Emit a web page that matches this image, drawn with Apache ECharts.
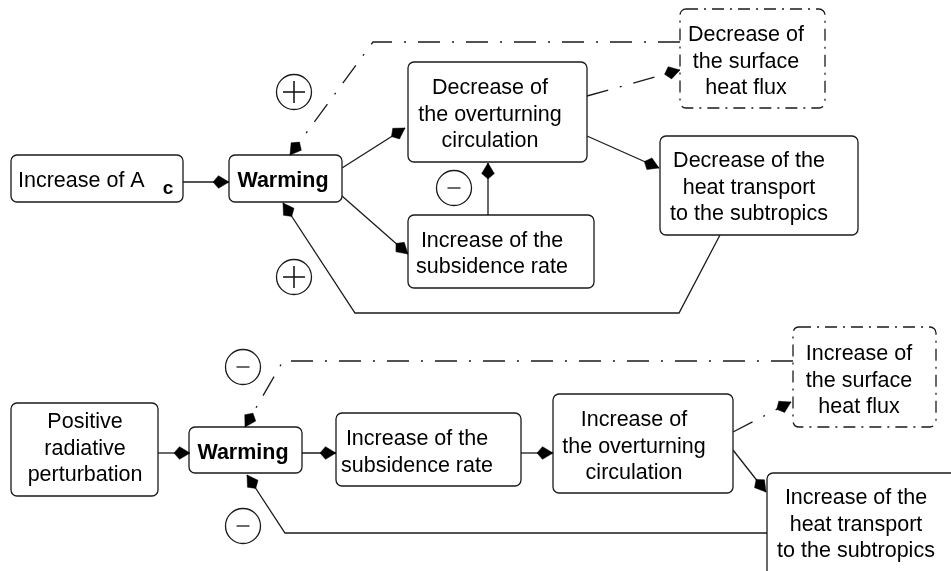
<!DOCTYPE html>
<html>
<head>
<meta charset="utf-8">
<script src="https://cdn.jsdelivr.net/npm/echarts@6/dist/echarts.min.js"></script>
<style>html,body{margin:0;padding:0;background:#fff}#c{width:951px;height:571px}</style>
</head>
<body>
<div id="c"></div>
<script>
// ---- content ----
const boxLabels = [
  'Increase of A',
  'Warming',
  'Decrease of\nthe overturning\ncirculation',
  'Increase of the\nsubsidence rate',
  'Decrease of\nthe surface\nheat flux',
  'Decrease of the\nheat transport\nto the subtropics',
  'Positive\nradiative\nperturbation',
  'Warming',
  'Increase of the\nsubsidence rate',
  'Increase of\nthe overturning\ncirculation',
  'Increase of\nthe surface\nheat flux',
  'Increase of the\nheat transport\nto the subtropics'
];
const boxSubscripts = ['c', '', '', '', '', '', '', '', '', '', '', ''];
const boxBold = [false, true, false, false, false, false, false, true, false, false, false, false];
const boxDashed = [false, false, false, false, true, false, false, false, false, false, true, false];
const signLabels = ['+', '−', '+', '−', '−'];

// ---- layout (pixel-space coordinates on a hidden 951x571 value grid) ----
const boxRects = [
  [11, 155, 183, 202],
  [229, 155, 342, 202],
  [408, 62, 587, 162],
  [408, 215, 594, 288],
  [680, 9, 825, 108],
  [660, 136, 858, 235],
  [11, 403, 158, 496],
  [189, 427, 302, 473],
  [336, 413, 521, 486],
  [553, 394, 733, 493],
  [793, 327, 936, 427],
  [767, 473, 966, 582]
];
const textAnchors = [
  [18, 181], [283, 181], [490, 115], [492, 254], [746, 62], [749, 188],
  [85, 449], [243, 453], [417, 452.5], [634, 447], [859, 381], [856, 525]
];
const subAnchors = [[168, 189]];
const signPositions = [[294, 92], [454, 188], [294, 277], [243, 367], [243, 526]];

// connectors: path points, ending at the arrow tip
const solidPaths = [
  [[183, 182], [229, 182]],
  [[342, 168], [405, 128]],
  [[342, 196], [408, 254]],
  [[488, 215], [488, 163]],
  [[587, 136], [659, 168]],
  [[720, 235], [679, 313], [355, 313], [283, 203]],
  [[158, 453], [190, 453]],
  [[302, 453], [336, 453]],
  [[521, 453], [553, 453]],
  [[733, 450], [766, 492]],
  [[767, 533], [285, 533], [247, 475]]
];
const dashPaths = [
  [[587, 96], [680, 70]],
  [[680, 42], [373, 42], [290, 155]],
  [[733, 432], [791, 402]],
  [[793, 361], [283, 361], [245, 427]]
];

const INK = '#1a1a1a';
const FONT = '"Liberation Sans", Arial, sans-serif';
const DASHDOT = [22, 12, 2, 12];

const arrowData = solidPaths.concat(dashPaths).map(p => {
  const a = p[p.length - 2], b = p[p.length - 1];
  return [a[0], a[1], b[0], b[1]];
});

function renderBox(params, api) {
  const i = params.dataIndex;
  const p1 = api.coord([api.value(0), api.value(1)]);
  const p2 = api.coord([api.value(2), api.value(3)]);
  const t = api.coord(textAnchors[i]);
  const children = [{
    type: 'rect',
    shape: {
      x: Math.min(p1[0], p2[0]), y: Math.min(p1[1], p2[1]),
      width: Math.abs(p2[0] - p1[0]), height: Math.abs(p2[1] - p1[1]), r: 6
    },
    style: { fill: '#fff', stroke: INK, lineWidth: 1.3, lineDash: boxDashed[i] ? [12, 6, 2, 6] : null }
  }, {
    type: 'text',
    style: {
      text: boxLabels[i], x: t[0], y: t[1],
      align: i === 0 ? 'left' : 'center', verticalAlign: 'middle',
      fontSize: 21.5, fontFamily: FONT, fontWeight: boxBold[i] ? 'bold' : 'normal',
      lineHeight: 26.5, fill: '#000'
    }
  }];
  if (boxSubscripts[i]) {
    const s = api.coord(subAnchors[0]);
    children.push({
      type: 'text',
      style: {
        text: boxSubscripts[i], x: s[0], y: s[1], align: 'center', verticalAlign: 'middle',
        fontSize: 19, fontFamily: FONT, fontWeight: 'bold', fill: '#000'
      }
    });
  }
  return { type: 'group', children };
}

function renderArrow(params, api) {
  const a = api.coord([api.value(0), api.value(1)]);
  const b = api.coord([api.value(2), api.value(3)]);
  const dx = b[0] - a[0], dy = b[1] - a[1];
  const len = Math.sqrt(dx * dx + dy * dy) || 1;
  const ux = dx / len, uy = dy / len, nx = -uy, ny = ux;
  const L = 16, M = 10.5, W = 6.3;
  return {
    type: 'polygon',
    shape: {
      points: [
        [b[0], b[1]],
        [b[0] - M * ux + W * nx, b[1] - M * uy + W * ny],
        [b[0] - L * ux, b[1] - L * uy],
        [b[0] - M * ux - W * nx, b[1] - M * uy - W * ny]
      ]
    },
    style: { fill: '#000', stroke: '#000', lineWidth: 0.5 }
  };
}

function renderSign(params, api) {
  const i = params.dataIndex;
  const c = api.coord([api.value(0), api.value(1)]);
  const r = 17.5;
  const children = [{
    type: 'circle', shape: { cx: c[0], cy: c[1], r },
    style: { fill: '#fff', stroke: INK, lineWidth: 1.3 }
  }];
  if (signLabels[i] === '+') {
    children.push({ type: 'line', shape: { x1: c[0] - 11, y1: c[1], x2: c[0] + 11, y2: c[1] }, style: { stroke: INK, lineWidth: 1.6 } });
    children.push({ type: 'line', shape: { x1: c[0], y1: c[1] - 11, x2: c[0], y2: c[1] + 11 }, style: { stroke: INK, lineWidth: 1.6 } });
  } else {
    children.push({ type: 'line', shape: { x1: c[0] - 6.5, y1: c[1], x2: c[0] + 6.5, y2: c[1] }, style: { stroke: INK, lineWidth: 1.3 } });
  }
  return { type: 'group', children };
}

const chart = echarts.init(document.getElementById('c'), null, { renderer: 'canvas' });
chart.setOption({
  animation: false,
  backgroundColor: '#fff',
  grid: { left: 0, right: 0, top: 0, bottom: 0 },
  xAxis: { type: 'value', min: 0, max: 951, show: false },
  yAxis: { type: 'value', min: 0, max: 571, inverse: true, show: false },
  series: [
    {
      type: 'lines', coordinateSystem: 'cartesian2d', polyline: true, z: 2,
      symbol: 'none', lineStyle: { color: INK, width: 1.3, opacity: 1 },
      data: solidPaths.map(p => ({ coords: p })), silent: true
    },
    {
      type: 'lines', coordinateSystem: 'cartesian2d', polyline: true, z: 2,
      symbol: 'none', lineStyle: { color: INK, width: 1.3, opacity: 1, type: DASHDOT },
      data: dashPaths.map(p => ({ coords: p })), silent: true
    },
    {
      type: 'custom', coordinateSystem: 'cartesian2d', z: 3, clip: false, silent: true,
      renderItem: renderBox, data: boxRects
    },
    {
      type: 'custom', coordinateSystem: 'cartesian2d', z: 4, clip: false, silent: true,
      renderItem: renderArrow, data: arrowData
    },
    {
      type: 'custom', coordinateSystem: 'cartesian2d', z: 3, clip: false, silent: true,
      renderItem: renderSign, data: signPositions
    }
  ]
});
</script>
</body>
</html>
